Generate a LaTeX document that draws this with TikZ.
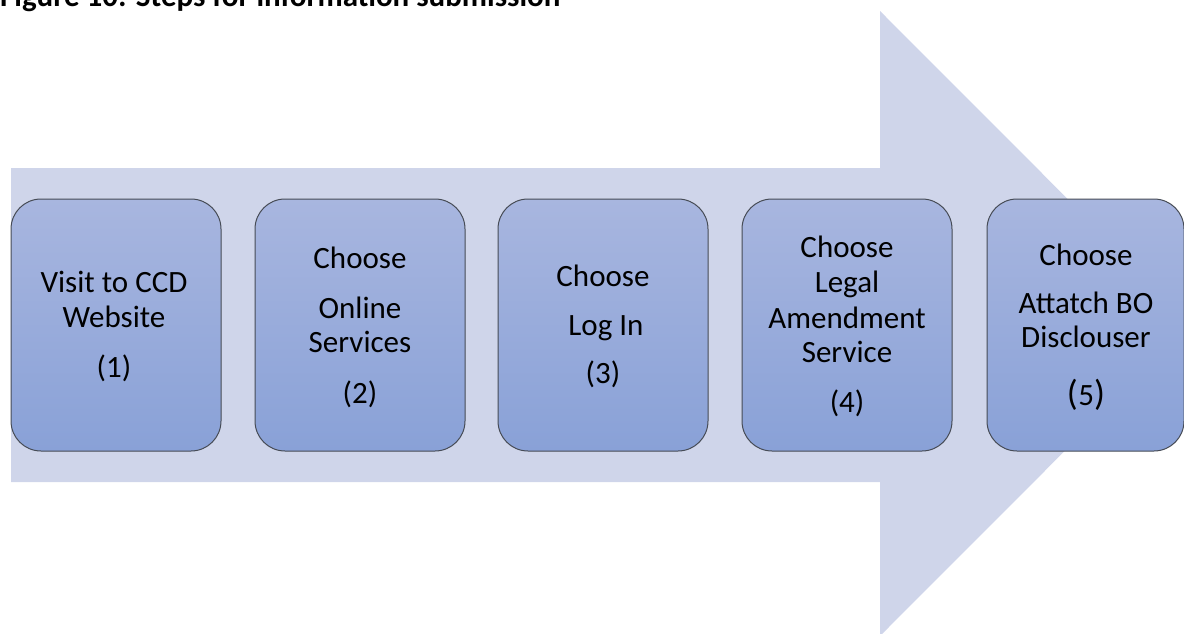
\documentclass[tikz,border=0pt]{standalone}
\usepackage{fontspec}
\setmainfont{Carlito}
\definecolor{arrowfill}{HTML}{CFD5EA}
\definecolor{boxtop}{HTML}{A8B6DF}
\definecolor{boxbot}{HTML}{89A1D7}
\definecolor{boxline}{HTML}{464B55}
\newcommand{\stepfont}{\fontsize{31}{34}\selectfont}
\tikzset{
  stepbox/.style={draw=boxline, line width=1pt, rounded corners=30pt,
    top color=boxtop, bottom color=boxbot,
    minimum width=210pt, minimum height=252pt, inner sep=0pt},
  lbl/.style={anchor=base, inner sep=0pt, font=\stepfont, text=black},
}
\begin{document}
\begin{tikzpicture}[x=1pt,y=-1pt]
\useasboundingbox (0,0) rectangle (1184,634);
\clip (0,0) rectangle (1184,634);

% caption, cut at the top edge
\node[anchor=base west, inner sep=0pt, font=\fontsize{31}{34}\selectfont\bfseries]
  (caption) at (0,7) {Figure 10: Steps for information submission};

% large background arrow
\fill[arrowfill] (11,168) -- (880,168) -- (880,11) -- (1192,323.5)
  -- (880,636) -- (880,482) -- (11,482) -- cycle;

% step boxes
\node[stepbox] (s1) at (116,325) {};
\node[stepbox] (s2) at (360,325) {};
\node[stepbox] (s3) at (603,325) {};
\node[stepbox] (s4) at (847,325) {};
\node[stepbox, minimum width=197pt] (s5) at (1085.5,325) {};

% step 1
\node[lbl] (s1a) at (114,292) {Visit to CCD};
\node[lbl] (s1b) at (114,327) {Website};
\node[lbl] (s1c) at (114,377) {(1)};
% step 2
\node[lbl] (s2a) at (360,268) {Choose};
\node[lbl] (s2b) at (360,318) {Online};
\node[lbl] (s2c) at (360,352) {Services};
\node[lbl] (s2d) at (360,403) {(2)};
% step 3
\node[lbl] (s3a) at (603,286) {Choose};
\node[lbl] (s3b) at (606,335) {Log In};
\node[lbl] (s3c) at (603,383) {(3)};
% step 4
\node[lbl] (s4a) at (847,257) {Choose};
\node[lbl] (s4b) at (847,292) {Legal};
\node[lbl] (s4c) at (847,328) {Amendment};
\node[lbl] (s4d) at (847,362) {Service};
\node[lbl] (s4e) at (847,412) {(4)};
% step 5
\node[lbl] (s5a) at (1086,265) {Choose};
\node[lbl] (s5b) at (1086,313) {Attatch BO};
\node[lbl] (s5c) at (1086,347) {Disclouser};
\node[lbl] (s5d) at (1086,405) {\fontsize{36}{36}\selectfont(\kern0.5pt\stepfont 5\fontsize{36}{36}\selectfont)};
\end{tikzpicture}
\end{document}
